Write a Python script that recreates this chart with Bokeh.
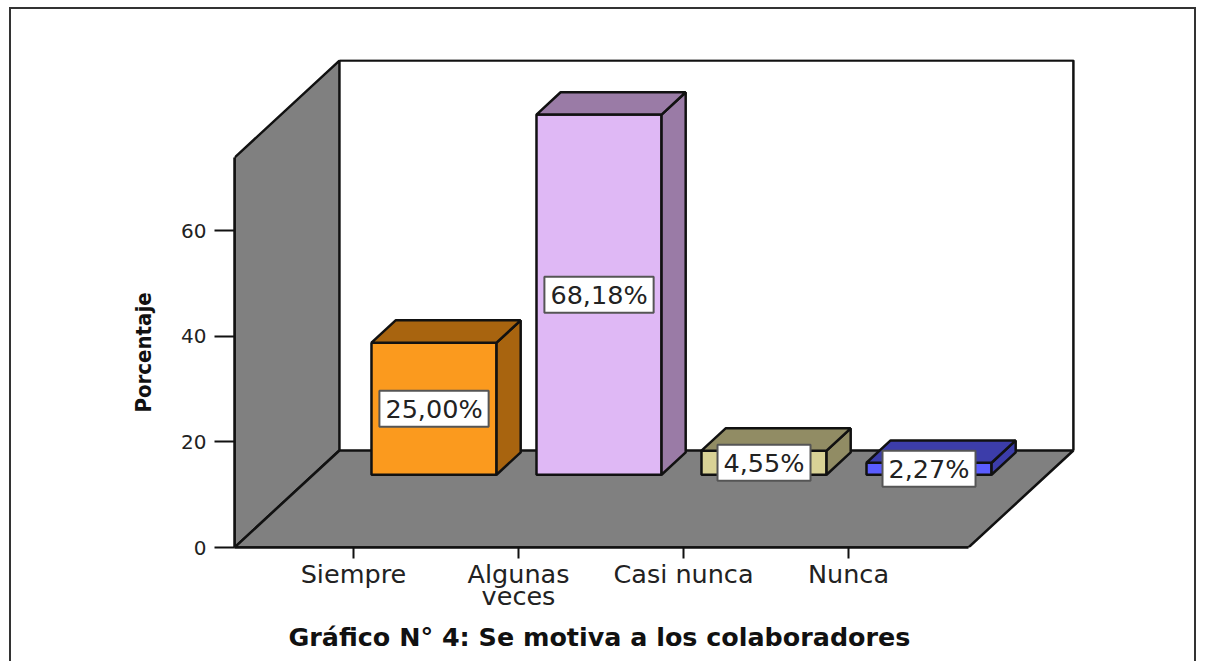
from bokeh.plotting import figure
from bokeh.models import LinearAxis, FixedTicker, Range1d, ColumnDataSource, InlineStyleSheet, Title
from bokeh.core.properties import value
from bokeh.embed import file_html
from bokeh.resources import INLINE

categories = ["Siempre", "Algunas\nveces", "Casi nunca", "Nunca"]
percent = [25.00, 68.18, 4.55, 2.27]
bar_labels = ["25,00%", "68,18%", "4,55%", "2,27%"]
front_colors = ["#FB9A1E", "#DFB8F5", "#D9D296", "#5A5CFF"]
side_colors = ["#A8640F", "#9A7BA6", "#918C64", "#3C3DAA"]
y_ticks = [0, 20, 40, 60]
title_text = "Gráfico N° 4: Se motiva a los colaboradores"
y_title = "Porcentaje"

WALL = "#808080"
INK = "#111111"
FONT = "DejaVu Sans"

# oblique projection, in data units
DX, DY = 0.636, 18.37
Y_TOP = 73.8
X0, X1 = 0.2788, 4.727
BAR_W = 0.758
BAR_OFF = 0.488
D_FRONT, D_BACK = 0.75, 0.98

frame_css = InlineStyleSheet(css=""":host::after {
  content: ""; position: absolute; left: 9px; top: 7px; width: 1183px; height: 654px;
  border-left: 2px solid #333; border-top: 2px solid #333; border-right: 2px solid #333;
  pointer-events: none; }""")

p = figure(width=1216, height=661, output_backend="svg", toolbar_location=None,
           x_range=Range1d(X0, 5.3818), y_range=Range1d(0, 92.38),
           x_axis_type=None, y_axis_type=None,
           min_border_left=234, min_border_right=140, min_border_top=59, min_border_bottom=114,
           stylesheets=[frame_css])
p.grid.visible = False
p.outline_line_color = None
p.background_fill_color = "white"
p.border_fill_color = "white"

# walls and floor
p.patch([X0, X0, X0 + DX, X0 + DX], [0, Y_TOP, Y_TOP + DY, DY],
        fill_color=WALL, line_color=INK, line_width=2.5)
p.patch([X0, X0 + DX, X1 + DX, X1], [0, DY, DY, 0],
        fill_color=WALL, line_color=INK, line_width=2.5)
p.line([X0 + DX, X1 + DX, X1 + DX], [Y_TOP + DY, Y_TOP + DY, DY], line_color=INK, line_width=2.5)

# bars
for i, v in enumerate(percent):
    xc = i + 1 + BAR_OFF
    l, r = xc - BAR_W / 2, xc + BAR_W / 2
    by = DY * D_FRONT
    ox, oy = DX * (D_BACK - D_FRONT), DY * (D_BACK - D_FRONT)
    p.patch([l, r, r, l], [by, by, by + v, by + v], fill_color=front_colors[i], line_color=INK, line_width=2.5)
    p.patch([r, r + ox, r + ox, r], [by, by + oy, by + v + oy, by + v], fill_color=side_colors[i], line_color=INK, line_width=2.5)
    p.patch([l, r, r + ox, l + ox], [by + v, by + v, by + v + oy, by + v + oy], fill_color=side_colors[i], line_color=INK, line_width=2.5)

# value boxes
src = ColumnDataSource(dict(
    x=[i + 1 + BAR_OFF for i in range(len(percent))],
    y=[DY * D_FRONT + v / 2 for v in percent],
    t=bar_labels))
p.text("x", "y", "t", source=src, text_align="center", text_baseline="middle",
       text_font=value(FONT), text_font_size="25.5px", text_color="#222222",
       background_fill_color="white", border_line_color="#555555", border_line_width=2, padding=(6, 3))

# axes
ya = LinearAxis(ticker=FixedTicker(ticks=y_ticks), bounds=(0, Y_TOP))
ya.axis_line_color = INK; ya.axis_line_width = 2.5
ya.major_tick_line_color = INK; ya.major_tick_line_width = 2
ya.major_tick_out = 20; ya.major_tick_in = 0; ya.minor_tick_line_color = None
ya.major_label_text_font = FONT; ya.major_label_text_font_size = "20px"
ya.major_label_text_color = "#222222"; ya.major_label_standoff = 8
p.add_layout(ya, "left")

xa = LinearAxis(ticker=FixedTicker(ticks=[1, 2, 3, 4]), bounds=(X0, X1),
                major_label_overrides={i + 1: c for i, c in enumerate(categories)})
xa.axis_line_color = INK; xa.axis_line_width = 2.5
xa.major_tick_line_color = INK; xa.major_tick_line_width = 2
xa.major_tick_out = 11; xa.major_tick_in = 0; xa.minor_tick_line_color = None
xa.major_label_text_font = FONT; xa.major_label_text_font_size = "25.5px"
xa.major_label_text_line_height = 0.76
xa.major_label_text_color = "#222222"; xa.major_label_standoff = 0
p.add_layout(xa, "below")

p.add_layout(Title(text=title_text, align="left", offset=54, standoff=10,
                   text_font=FONT, text_font_size="25.4px", text_font_style="bold",
                   text_color="#111111"), "below")
p.add_layout(Title(text=y_title, align="left", offset=135, standoff=46,
                   text_font="DejaVu Sans Condensed", text_font_size="22px", text_font_style="bold",
                   text_color="#111111"), "left")

open("out.html", "w").write(file_html(p, INLINE))
